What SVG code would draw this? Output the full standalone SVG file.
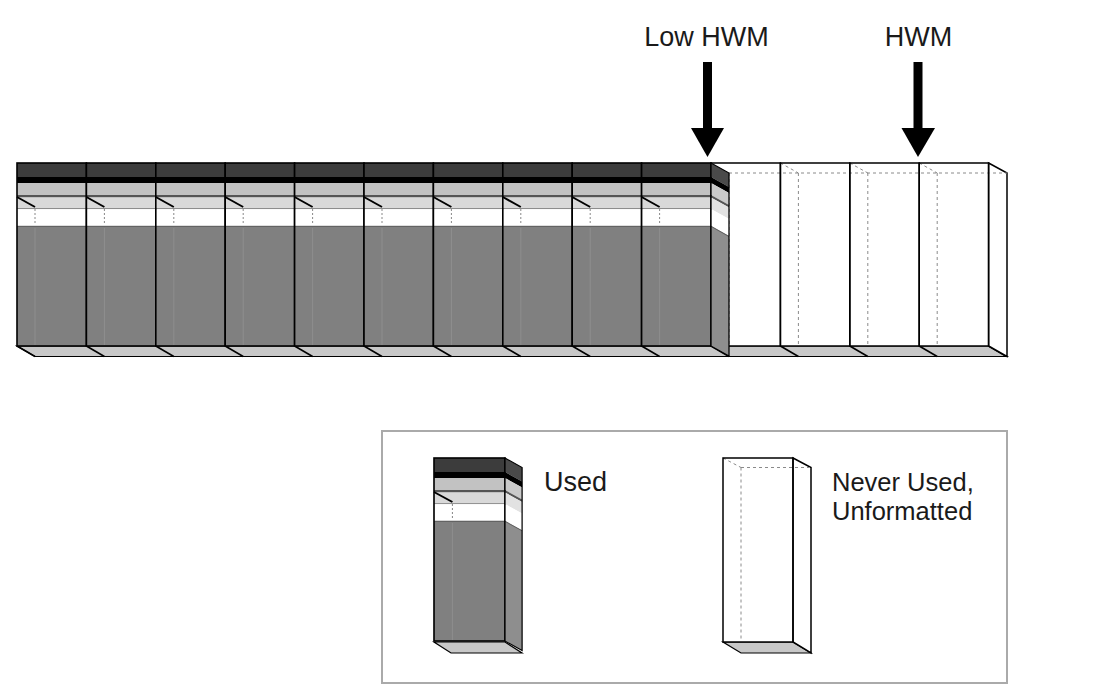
<svg xmlns="http://www.w3.org/2000/svg" xmlns:xlink="http://www.w3.org/1999/xlink" width="1098" height="694" viewBox="0 0 1098 694">
<style>
.lbl{font-family:"Liberation Sans",Arial,Helvetica,sans-serif;font-size:27px;fill:#1a1a1a}
.lbl2{font-family:"Liberation Sans",Arial,Helvetica,sans-serif;font-size:25.5px;fill:#1a1a1a}
.edge{stroke:#000;stroke-width:1.5;fill:none}
.hid{stroke:#8a8a8a;stroke-width:1;stroke-dasharray:3 3;fill:none}
.bot{fill:#c8c8c8;stroke:#000;stroke-width:1.2}
.diag{stroke:#000;stroke-width:1.6}
.arrow{fill:#000}
</style>
<defs>
<g id="usedFront">
<rect x="0" y="163" width="69.4" height="14" fill="#3c3c3c"/>
<rect x="0" y="177" width="69.4" height="6" fill="#000"/>
<rect x="0" y="183" width="69.4" height="12" fill="#c2c2c2"/>
<rect x="0" y="195" width="69.4" height="2.5" fill="#555"/>
<rect x="0" y="197.5" width="69.4" height="11" fill="#d9d9d9"/>
<line x1="0" y1="208.7" x2="69.4" y2="208.7" stroke="#777" stroke-width="1"/>
<rect x="0" y="209.2" width="69.4" height="16.8" fill="#fff"/>
<rect x="0" y="226" width="69.4" height="120" fill="#808080"/>
<line x1="0" y1="226.3" x2="69.4" y2="226.3" stroke="#5a5a5a" stroke-width="1"/>
<line x1="18" y1="228" x2="18" y2="345" stroke="#8e8e8e" stroke-width="1"/>
<line x1="0" y1="197" x2="18" y2="207" stroke="#000" stroke-width="2"/>
<line x1="18" y1="209" x2="18" y2="225" stroke="#888" stroke-width="1" stroke-dasharray="2 2"/>
<rect x="0" y="163" width="69.4" height="183" fill="none" stroke="#000" stroke-width="1.6"/>
</g>
<g id="usedSide">
<rect x="0" y="163" width="18" height="14" fill="#4a4a4a"/>
<rect x="0" y="177" width="18" height="6" fill="#000"/>
<rect x="0" y="183" width="18" height="12" fill="#cacaca"/>
<rect x="0" y="195" width="18" height="2.5" fill="#555"/>
<rect x="0" y="197.5" width="18" height="11.5" fill="#e2e2e2"/>
<rect x="0" y="209" width="18" height="17" fill="#fff"/>
<rect x="0" y="226" width="18" height="120" fill="#8e8e8e"/>
<line x1="0" y1="226.3" x2="18" y2="226.3" stroke="#5a5a5a" stroke-width="1"/>
<rect x="0" y="163" width="18" height="183" fill="none" stroke="#000" stroke-width="1.3"/>
</g>
</defs>
<rect width="1098" height="694" fill="#fff"/>

<!-- bottom face of the strip -->
<g id="strip-bottom">
<polygon class="bot" points="17,346 989,346 1007,356.5 35,356.5"/>
<line class="diag" x1="17" y1="346" x2="35" y2="356.5"/>
<line class="diag" x1="86.4" y1="346" x2="104.4" y2="356.5"/>
<line class="diag" x1="155.8" y1="346" x2="173.8" y2="356.5"/>
<line class="diag" x1="225.2" y1="346" x2="243.2" y2="356.5"/>
<line class="diag" x1="294.6" y1="346" x2="312.6" y2="356.5"/>
<line class="diag" x1="364" y1="346" x2="382" y2="356.5"/>
<line class="diag" x1="433.4" y1="346" x2="451.4" y2="356.5"/>
<line class="diag" x1="502.8" y1="346" x2="520.8" y2="356.5"/>
<line class="diag" x1="572.2" y1="346" x2="590.2" y2="356.5"/>
<line class="diag" x1="641.6" y1="346" x2="659.6" y2="356.5"/>
<line class="diag" x1="711" y1="346" x2="729" y2="356.5"/>
<line class="diag" x1="780.4" y1="346" x2="798.4" y2="356.5"/>
<line class="diag" x1="849.8" y1="346" x2="867.8" y2="356.5"/>
<line class="diag" x1="919.2" y1="346" x2="937.2" y2="356.5"/>
<line class="diag" x1="988.6" y1="346" x2="1006.6" y2="356.5"/>
</g>

<!-- never used, unformatted blocks -->
<g id="free-blocks">
<g id="free-1"><rect x="711" y="163" width="69.4" height="183" fill="#fff"/></g>
<g id="free-2"><rect x="780.4" y="163" width="69.4" height="183" fill="#fff"/></g>
<g id="free-3"><rect x="849.8" y="163" width="69.4" height="183" fill="#fff"/></g>
<g id="free-4"><rect x="919.2" y="163" width="69.4" height="183" fill="#fff"/></g>
<polygon points="988.6,163 1007,173 1007,356.5 988.6,346" fill="#fff" stroke="#000" stroke-width="1.5"/>
<g id="free-hidden">
<line class="hid" x1="729" y1="173" x2="1007" y2="173"/>
<line class="hid" x1="729" y1="173" x2="729" y2="345"/>
<line class="hid" x1="798.4" y1="173" x2="798.4" y2="345"/>
<line class="hid" x1="867.8" y1="173" x2="867.8" y2="345"/>
<line class="hid" x1="937.2" y1="173" x2="937.2" y2="345"/>
<line class="hid" x1="780.4" y1="163" x2="798.4" y2="173"/>
<line class="hid" x1="849.8" y1="163" x2="867.8" y2="173"/>
<line class="hid" x1="919.2" y1="163" x2="937.2" y2="173"/>
</g>
<rect class="edge" x="711" y="163" width="69.4" height="183" stroke="#3a3a3a" stroke-width="2.2"/>
<rect class="edge" x="780.4" y="163" width="69.4" height="183" stroke="#3a3a3a" stroke-width="2.2"/>
<rect class="edge" x="849.8" y="163" width="69.4" height="183" stroke="#3a3a3a" stroke-width="2.2"/>
<rect class="edge" x="919.2" y="163" width="69.4" height="183" stroke="#3a3a3a" stroke-width="2.2"/>
</g>

<!-- used blocks -->
<g id="used-blocks">
<g id="used-1"><use xlink:href="#usedFront" transform="translate(17,0)"/></g>
<g id="used-2"><use xlink:href="#usedFront" transform="translate(86.4,0)"/></g>
<g id="used-3"><use xlink:href="#usedFront" transform="translate(155.8,0)"/></g>
<g id="used-4"><use xlink:href="#usedFront" transform="translate(225.2,0)"/></g>
<g id="used-5"><use xlink:href="#usedFront" transform="translate(294.6,0)"/></g>
<g id="used-6"><use xlink:href="#usedFront" transform="translate(364,0)"/></g>
<g id="used-7"><use xlink:href="#usedFront" transform="translate(433.4,0)"/></g>
<g id="used-8"><use xlink:href="#usedFront" transform="translate(502.8,0)"/></g>
<g id="used-9"><use xlink:href="#usedFront" transform="translate(572.2,0)"/></g>
<g id="used-10"><use xlink:href="#usedFront" transform="translate(641.6,0)"/></g>
<g id="used-side"><use xlink:href="#usedSide" transform="matrix(1,0.56,0,1,711,0)"/></g>
</g>

<!-- markers -->
<g id="connectors">
<rect class="arrow" x="703" y="62" width="9" height="68"/>
<polygon class="arrow" points="691,128 724,128 707.5,157"/>
<rect class="arrow" x="913.5" y="62" width="9" height="68"/>
<polygon class="arrow" points="901.5,128 935,128 918,157"/>
</g>
<g id="label-low-hwm"><text class="lbl" x="706.5" y="46" text-anchor="middle">Low HWM</text></g>
<g id="label-hwm"><text class="lbl" x="918.5" y="46" text-anchor="middle">HWM</text></g>

<!-- legend -->
<g id="legend">
<rect x="382" y="431" width="625" height="252" fill="none" stroke="#aaa" stroke-width="2"/>
<g id="legend-used">
<polygon class="bot" points="434,642 505,642 522,653 451,653"/>
<use xlink:href="#usedFront" transform="translate(434,295) scale(1.023,1)"/>
<use xlink:href="#usedSide" transform="matrix(0.95,0.53,0,1,505,295)"/>
<text class="lbl" x="544" y="491">Used</text>
</g>
<g id="legend-free">
<polygon class="bot" points="723,642 793,642 811,653 741,653"/>
<rect x="723" y="458" width="70" height="184" fill="#fff"/>
<polygon points="793,458 811,467.5 811,653 793,642" fill="#fff" stroke="#000" stroke-width="1.5"/>
<line class="hid" x1="741" y1="467.5" x2="811" y2="467.5"/>
<line class="hid" x1="741" y1="467.5" x2="741" y2="641"/>
<line class="hid" x1="723" y1="458" x2="741" y2="467.5"/>
<rect class="edge" x="723" y="458" width="70" height="184" stroke="#2a2a2a" stroke-width="1.8"/>
<text class="lbl2" x="832" y="491">Never Used,</text>
<text class="lbl2" x="832" y="520">Unformatted</text>
</g>
</g>
</svg>
